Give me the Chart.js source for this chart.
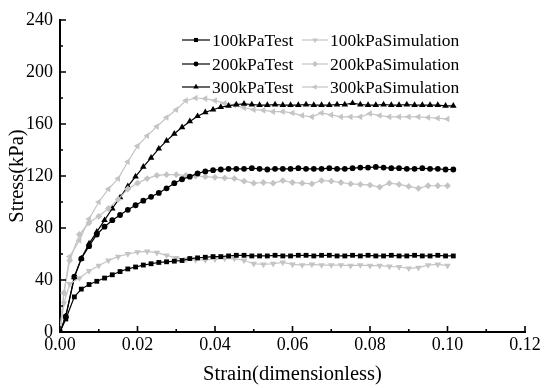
<!DOCTYPE html>
<html><head><meta charset="utf-8">
<script src="https://cdn.jsdelivr.net/npm/chart.js@4"></script>
<style>html,body{margin:0;padding:0;background:#fff}#wrap{width:550px;height:388px}</style>
</head><body><div id="wrap"><canvas id="c" width="550" height="388"></canvas></div>
<script>
const testStrain = [0, 0.0015, 0.0037, 0.0055, 0.0075, 0.0095, 0.0115, 0.0135, 0.0155, 0.0175,
  0.0195, 0.0215, 0.0235, 0.0255, 0.0275, 0.0295, 0.0315, 0.0335, 0.0355, 0.0375,
  0.0395, 0.0415, 0.0435, 0.0455, 0.0475, 0.0495, 0.0515, 0.0535, 0.0555, 0.0575,
  0.0595, 0.0615, 0.0635, 0.0655, 0.0675, 0.0695, 0.0715, 0.0735, 0.0755, 0.0775,
  0.0795, 0.0815, 0.0835, 0.0855, 0.0875, 0.0895, 0.0915, 0.0935, 0.0955, 0.0975,
  0.0995, 0.1015];
const test100 = [0, 10, 27, 33, 36.5, 39, 41.5, 44, 46.5, 48.5,
  50, 51.5, 52.5, 53.5, 54, 54.5, 55, 56.5, 57, 57.5,
  58, 58, 58.5, 59, 59, 58.5, 58.5, 58.5, 59, 58.5,
  58.5, 59, 59, 58.5, 59, 59, 58.5, 58.5, 59, 58.5,
  59, 58.5, 58.5, 59, 58.5, 58.5, 59, 58.5, 58.5, 59,
  58.5, 58.5];
const test200 = [0, 12, 42.5, 56.5, 66, 75, 81, 86, 90, 94,
  97.5, 101, 104, 107, 110.5, 114.5, 117.5, 119.5, 122, 123.5,
  124.5, 125, 125.5, 125.5, 125.5, 126, 125.5, 125, 125.5, 125.5,
  125.5, 126, 125.5, 125.5, 125.5, 126, 125.5, 125.5, 126, 126.5,
  126.5, 127, 126.5, 126, 126, 125.5, 125.5, 126, 125.5, 125.5,
  125, 125];
const test300 = [0, 12, 42, 56.5, 68, 77, 86, 95, 103.5, 112,
  119.5, 127, 134, 141, 147, 152.5, 157.5, 162, 166, 169,
  171, 173, 174, 175, 175.5, 175, 174.5, 174.5, 175, 174.5,
  174.5, 174.5, 175, 174.5, 174.5, 174.5, 175, 175, 176, 175,
  174.5, 174.5, 175, 174.5, 174.5, 175, 174.5, 174.5, 174.5, 174.5,
  174, 174];

const simStrain = [0, 0.001, 0.0025, 0.005, 0.0075, 0.01, 0.0125, 0.015, 0.0175, 0.02,
  0.0225, 0.025, 0.0275, 0.03, 0.0325, 0.035, 0.0375, 0.04, 0.0425, 0.045,
  0.0475, 0.05, 0.0525, 0.055, 0.0575, 0.06, 0.0625, 0.065, 0.0675, 0.07,
  0.0725, 0.075, 0.0775, 0.08, 0.0825, 0.085, 0.0875, 0.09, 0.0925, 0.095,
  0.0975, 0.1];
const sim100 = [0, 22, 37, 41.5, 47, 51, 55, 58, 60, 61.5,
  62, 61, 59, 57, 56, 55.5, 55.5, 56, 56.5, 56.5,
  55, 52.5, 52, 52.5, 53.5, 52, 51.5, 52, 51.5, 51.5,
  51.5, 51, 51.5, 51, 51, 50.5, 50, 49, 49.5, 51.5,
  52, 51];
const sim200 = [0, 30, 55, 75, 84, 89, 95, 102, 110, 114.5,
  118, 120.5, 121, 121, 120.5, 120, 119.5, 119, 118.5, 118,
  116, 114.5, 115, 114.5, 116.5, 115, 114.5, 114, 116.5, 116,
  115, 114, 113.5, 113, 111.5, 114.5, 113.5, 112, 110.5, 112.5,
  112.5, 112.5];
const sim300 = [0, 30, 58, 70.5, 87, 100, 110, 118, 131, 143,
  151, 158, 165, 171, 178, 180, 179.5, 178, 176, 174.5,
  172.5, 171, 170.5, 169.5, 169.5, 168.5, 166.5, 165.5, 168.5, 167,
  165.5, 165.5, 165.5, 168, 166.5, 165.5, 165.5, 165.5, 165.5, 165,
  164.5, 163.8];

const xTicks = [0, 0.02, 0.04, 0.06, 0.08, 0.10, 0.12];
const yTicks = [0, 40, 80, 120, 160, 200, 240];
const seriesNames = ['100kPaTest', '100kPaSimulation', '200kPaTest', '200kPaSimulation', '300kPaTest', '300kPaSimulation'];
const xTitle = 'Strain(dimensionless)';
const yTitle = 'Stress(kPa)';

const BLACK = '#000000', GRAY = '#c4c4c4';
const FONT = '"Liberation Serif", "Times New Roman", serif';

function pts(xs, ys) { return xs.map((x, i) => ({ x: x, y: ys[i] })); }

function mk(label, xs, ys, color, style, radius, rot) {
  return {
    label: label, data: pts(xs, ys), showLine: true,
    borderColor: color, backgroundColor: color, borderWidth: 1.2,
    pointStyle: style, pointRadius: radius, pointRotation: rot,
    pointBorderWidth: 0, pointBackgroundColor: color, pointBorderColor: color,
    tension: 0
  };
}

const datasets = [
  mk(seriesNames[0], testStrain, test100, BLACK, 'rect', 3.4, 0),
  mk(seriesNames[1], simStrain, sim100, GRAY, 'triangle', 3.8, 180),
  mk(seriesNames[2], testStrain, test200, BLACK, 'circle', 2.9, 0),
  mk(seriesNames[3], simStrain, sim200, GRAY, 'rectRot', 3.4, 0),
  mk(seriesNames[4], testStrain, test300, BLACK, 'triangle', 3.8, 0),
  mk(seriesNames[5], simStrain, sim300, GRAY, 'triangle', 3.8, 270)
];

function drawMarker(ctx, style, x, y, r, rot, color) {
  ctx.save();
  ctx.fillStyle = color;
  ctx.translate(x, y);
  ctx.rotate(rot * Math.PI / 180);
  ctx.beginPath();
  if (style === 'rect') {
    const s = r * Math.SQRT1_2;
    ctx.rect(-s, -s, 2 * s, 2 * s);
  } else if (style === 'circle') {
    ctx.arc(0, 0, r, 0, Math.PI * 2);
  } else if (style === 'rectRot') {
    ctx.moveTo(0, -r); ctx.lineTo(r, 0); ctx.lineTo(0, r); ctx.lineTo(-r, 0);
  } else {
    ctx.moveTo(0, -r); ctx.lineTo(r * 0.866, r * 0.5); ctx.lineTo(-r * 0.866, r * 0.5);
  }
  ctx.closePath();
  ctx.fill();
  ctx.restore();
}

const legendPlugin = {
  id: 'customLegend',
  afterDraw(chart) {
    const ctx = chart.ctx;
    const cols = [{ l0: 182, l1: 210, tx: 212 }, { l0: 302, l1: 328, tx: 330 }];
    const rows = [40, 64, 87];
    chart.data.datasets.forEach((ds, i) => {
      const c = cols[i % 2], ry = rows[Math.floor(i / 2)];
      ctx.save();
      ctx.strokeStyle = ds.borderColor;
      ctx.lineWidth = 1.2;
      ctx.beginPath(); ctx.moveTo(c.l0, ry); ctx.lineTo(c.l1, ry); ctx.stroke();
      drawMarker(ctx, ds.pointStyle, (c.l0 + c.l1) / 2, ry, ds.pointRadius * 0.85, ds.pointRotation, ds.borderColor);
      ctx.fillStyle = '#000';
      ctx.font = '17.5px ' + FONT;
      ctx.textBaseline = 'middle';
      ctx.textAlign = 'left';
      ctx.fillText(ds.label, c.tx, ry + 1);
      ctx.restore();
    });
  }
};

const tickPlugin = {
  id: 'inwardTicks',
  afterDraw(chart) {
    const ctx = chart.ctx, xs = chart.scales.x, ys = chart.scales.y, a = chart.chartArea;
    ctx.save();
    ctx.strokeStyle = '#000';
    ctx.lineWidth = 1.6;
    ctx.beginPath();
    xTicks.forEach((v, i) => {
      const px = xs.getPixelForValue(v);
      ctx.moveTo(px, a.bottom); ctx.lineTo(px, a.bottom - 6);
      if (i < xTicks.length - 1) {
        const mx = xs.getPixelForValue((v + xTicks[i + 1]) / 2);
        ctx.moveTo(mx, a.bottom); ctx.lineTo(mx, a.bottom - 3);
      }
    });
    yTicks.forEach((v, i) => {
      const py = ys.getPixelForValue(v);
      ctx.moveTo(a.left, py); ctx.lineTo(a.left + 6, py);
      if (i < yTicks.length - 1) {
        const my = ys.getPixelForValue((v + yTicks[i + 1]) / 2);
        ctx.moveTo(a.left, my); ctx.lineTo(a.left + 3, my);
      }
    });
    ctx.stroke();
    ctx.restore();
  }
};

new Chart(document.getElementById('c'), {
  type: 'scatter',
  data: { datasets: datasets },
  plugins: [tickPlugin, legendPlugin],
  options: {
    responsive: false,
    animation: false,
    layout: { padding: { top: 20, right: 25, left: 0, bottom: 0 } },
    plugins: { legend: { display: false }, tooltip: { enabled: false } },
    scales: {
      x: {
        type: 'linear', min: 0, max: 0.12,
        afterBuildTicks: s => { s.ticks = xTicks.map(v => ({ value: v })); },
        afterFit: s => { s.height = 56; },
        ticks: { callback: v => Number(v).toFixed(2), font: { family: FONT, size: 18, lineHeight: 1 }, color: '#000', padding: 4, maxRotation: 0, autoSkip: false },
        grid: { display: true, drawOnChartArea: false, drawTicks: false },
        border: { display: true, color: '#000', width: 2 },
        title: { display: true, text: xTitle, font: { family: FONT, size: 20.5, lineHeight: 1.2 }, color: '#000', padding: { top: 0, bottom: 1 } }
      },
      y: {
        type: 'linear', min: 0, max: 240,
        afterBuildTicks: s => { s.ticks = yTicks.map(v => ({ value: v })); },
        afterFit: s => { s.width = 60; },
        ticks: { font: { family: FONT, size: 18 }, color: '#000', padding: 7, autoSkip: false },
        grid: { display: true, drawOnChartArea: false, drawTicks: false },
        border: { display: true, color: '#000', width: 2 },
        title: { display: true, text: yTitle, font: { family: FONT, size: 20.5, lineHeight: 1.2 }, color: '#000', padding: { top: 5, bottom: 0 } }
      }
    }
  }
});
</script>
</body></html>
